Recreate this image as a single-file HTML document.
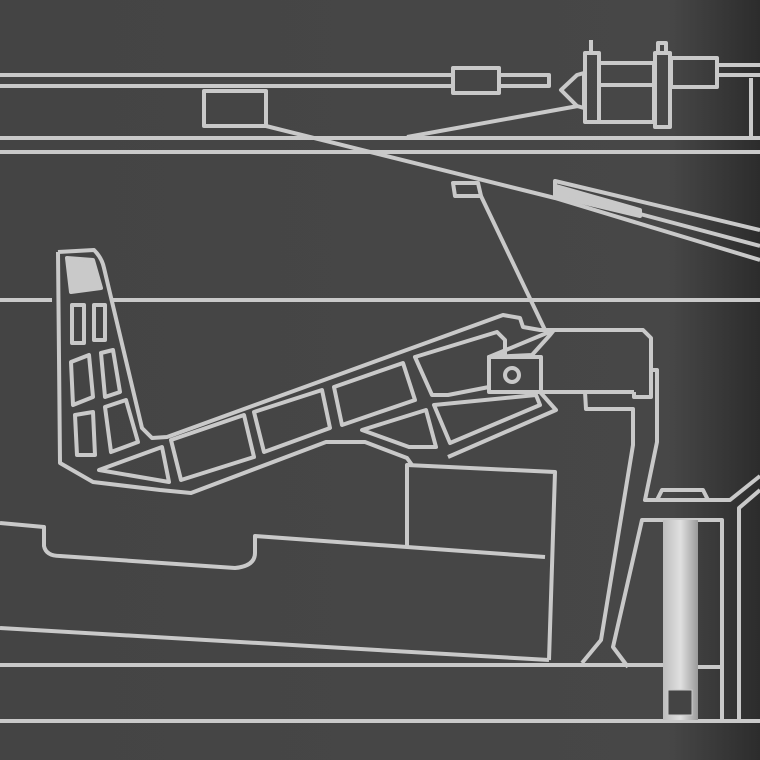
<!DOCTYPE html>
<html><head><meta charset="utf-8"><style>
html,body{margin:0;padding:0;width:760px;height:760px;overflow:hidden;background:#444}
svg{display:block}
</style></head><body>
<svg width="760" height="760" viewBox="0 0 760 760" xmlns="http://www.w3.org/2000/svg">
<defs>
<linearGradient id="bg" x1="0" x2="1" y1="0" y2="0">
<stop offset="0" stop-color="#444"/><stop offset="0.88" stop-color="#474747"/><stop offset="1" stop-color="#2c2c2c"/>
</linearGradient>
<linearGradient id="cyl" x1="0" x2="1"><stop offset="0" stop-color="#bdbdbd"/><stop offset="0.5" stop-color="#e0e0e0"/><stop offset="1" stop-color="#9a9a9a"/></linearGradient>
</defs>
<rect width="760" height="760" fill="url(#bg)"/>
<g fill="none" stroke="#c9c9c9" stroke-width="4" stroke-linejoin="round">
<line x1="0" y1="75" x2="453" y2="75"/>
<line x1="0" y1="86" x2="453" y2="86"/>
<rect x="453" y="68" width="46" height="25"/>
<rect x="499" y="75" width="50" height="11"/>
<polygon points="577,75 561,90 577,106 584,108 584,73"/>
<rect x="585" y="53" width="14" height="69"/>
<line x1="591" y1="40" x2="591" y2="53"/>
<rect x="599" y="63" width="55" height="59"/>
<line x1="599" y1="85" x2="654" y2="85"/>
<rect x="655" y="53" width="15" height="74"/>
<rect x="658" y="43" width="8" height="10"/>
<rect x="671" y="58" width="46" height="29"/>
<rect x="717" y="65" width="45" height="10"/>
<line x1="751" y1="78" x2="751" y2="138"/>
<line x1="0" y1="138" x2="760" y2="138"/>
<line x1="0" y1="152" x2="760" y2="152"/>
<rect x="204" y="91" width="62" height="35"/>
<line x1="266" y1="126" x2="555" y2="198"/>
<line x1="578" y1="106" x2="407" y2="137"/>
<polyline points="760,230 555,181 555,198 760,260"/>
<line x1="640" y1="214" x2="760" y2="246"/>
<polygon points="556,186 640,210 640,216 556,196" fill="#c9c9c9"/>
<polygon points="453,183 478,183 481,196 455,196"/>
<line x1="481" y1="196" x2="545" y2="330"/>
<line x1="0" y1="300" x2="52" y2="300"/>
<line x1="110" y1="300" x2="760" y2="300"/>
<path d="M58,252 L94,250 Q102,258 104,268 L142,428 L152,438 L167,437 L503,315 L520,318 L523,327 L540,330 L554,330 L643,330 L651,338 L651,397 L634,397 L634,392"/>
<path d="M58,252 L60,463 L93,482 L160,490 L191,493 L326,442 L365,442 L407,458 L412,465"/>
<path d="M448,457 L556,410 L540,392"/>
<polyline points="540,392 634,392"/>
<polygon points="489,357 532,355 550,335 554,330"/>
<rect x="489" y="357" width="52" height="35"/>
<circle cx="512" cy="375" r="7"/>
<polygon points="67,258 93,260 101,288 71,292" fill="#c9c9c9"/>
<rect x="72" y="305" width="12" height="38"/>
<rect x="94" y="305" width="11" height="35"/>
<polygon points="71,362 89,355 93,397 73,405"/>
<polygon points="101,353 113,350 120,392 105,397"/>
<polygon points="75,415 93,412 95,455 77,455"/>
<polygon points="105,407 126,400 138,442 111,452"/>
<polygon points="99,470 162,447 169,482"/>
<polygon points="171,440 244,415 254,457 181,480"/>
<polygon points="254,412 322,390 330,428 264,452"/>
<polygon points="334,387 403,363 415,400 342,425"/>
<polygon points="415,357 497,332 505,340 505,355 489,357 489,387 448,395 432,395"/>
<polygon points="434,405 536,395 540,405 450,443"/>
<polygon points="362,430 426,410 436,447 409,447"/>
<polyline points="407,546 407,465 555,472 549,660"/>
<path d="M0,523 L44,527 L44,546 Q46,556 60,556 L235,568 Q255,566 255,553 L255,536 L545,557"/>
<line x1="0" y1="628" x2="549" y2="660"/>
<line x1="0" y1="665" x2="663" y2="665"/>
<line x1="0" y1="721" x2="760" y2="721"/>
<polyline points="585,392 586,409 633,409 633,445 601,640 582,663"/>
<polyline points="652,370 657,370 657,442 645,500 730,500 760,476"/>
<polygon points="657,500 662,490 703,490 708,500"/>
<polyline points="739,720 739,508 760,490"/>
<polyline points="628,667 613,647 642,520 722,520 722,720"/>
<line x1="698" y1="667" x2="722" y2="667"/>
</g>
<rect x="663" y="520" width="35" height="200" fill="url(#cyl)"/>
<rect x="668" y="690" width="24" height="25" fill="#444" stroke="#c9c9c9" stroke-width="1"/>
</svg>
</body></html>
